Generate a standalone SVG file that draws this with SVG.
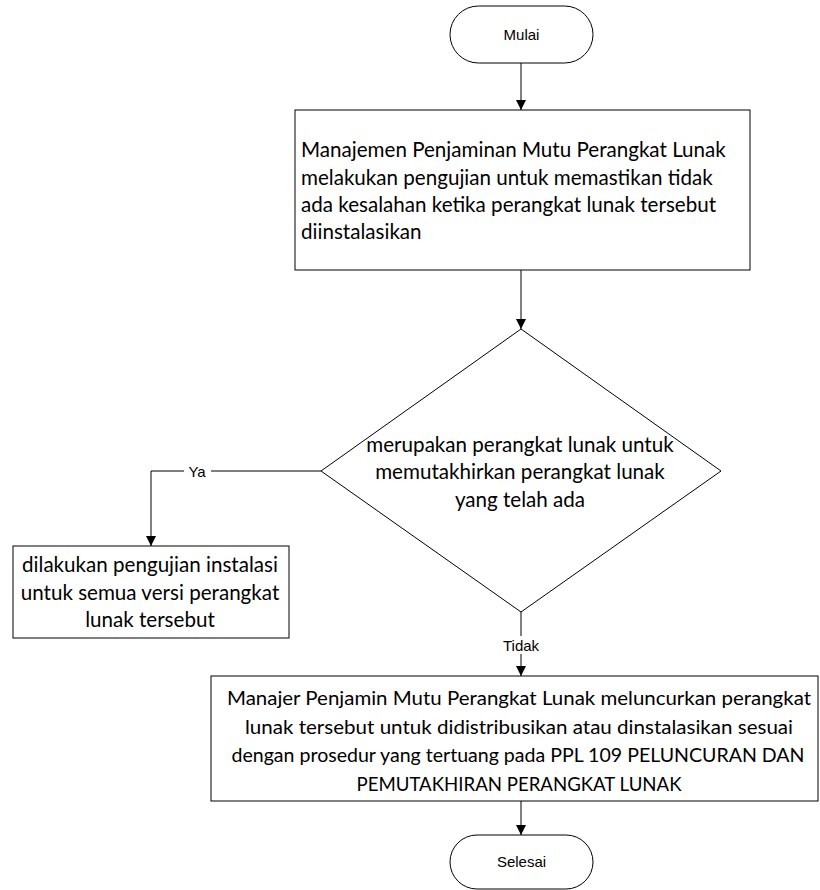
<svg xmlns="http://www.w3.org/2000/svg" width="820" height="890" viewBox="0 0 820 890">
<style>
.shape{fill:#fff;stroke:#000;stroke-width:1}
.conn{fill:none;stroke:#000;stroke-width:1}
.t{font-family:Lato,"Open Sans","Liberation Sans",sans-serif;font-size:20.6px;fill:#000}
.t2{font-family:Lato,"Open Sans","Liberation Sans",sans-serif;font-size:19.6px;fill:#000}
.s{font-family:"Liberation Sans",Arial,sans-serif;font-size:15px;fill:#000}
.lbl{fill:#fff;stroke:none}
</style>
<defs>
<marker id="arr" viewBox="0 0 10 10" refX="10" refY="5" markerWidth="10" markerHeight="10" markerUnits="userSpaceOnUse" orient="auto">
<path d="M0,0 L10,5 L0,10 Z" fill="#000"/>
</marker>
</defs>
<g id="connectors">
<line class="conn" x1="521" y1="63" x2="521" y2="110" marker-end="url(#arr)"/>
<line class="conn" x1="521" y1="270" x2="521" y2="329" marker-end="url(#arr)"/>
<polyline class="conn" points="321,471 151,471 151,546" marker-end="url(#arr)"/>
<rect class="lbl" x="184" y="462" width="27" height="18"/>
<text class="s" x="197" y="477" text-anchor="middle">Ya</text>
<line class="conn" x1="521" y1="612" x2="521" y2="676" marker-end="url(#arr)"/>
<rect class="lbl" x="498" y="636" width="46" height="18"/>
<text class="s" x="521" y="651" text-anchor="middle">Tidak</text>
<line class="conn" x1="521" y1="801" x2="521" y2="835" marker-end="url(#arr)"/>
</g>
<g id="mulai">
<rect class="shape" x="450" y="6" width="143" height="57" rx="28.5" ry="28.5"/>
<text class="s" x="521.5" y="40" text-anchor="middle">Mulai</text>
</g>
<g id="uji">
<rect class="shape" x="295" y="110" width="455" height="160"/>
<text class="t" x="301" y="157">Manajemen Penjaminan Mutu Perangkat Lunak</text>
<text class="t" x="301" y="185">melakukan pengujian untuk memastikan tidak</text>
<text class="t" x="301" y="212">ada kesalahan ketika perangkat lunak tersebut</text>
<text class="t" x="301" y="239">diinstalasikan</text>
</g>
<g id="keputusan">
<polygon class="shape" points="521,329 721,471 521,612 321,471"/>
<text class="t" x="520" y="452" text-anchor="middle">merupakan perangkat lunak untuk</text>
<text class="t" x="520" y="479" text-anchor="middle">memutakhirkan perangkat lunak</text>
<text class="t" x="520" y="507" text-anchor="middle">yang telah ada</text>
</g>
<g id="instalasi">
<rect class="shape" x="13" y="546" width="276" height="92"/>
<text class="t" x="150" y="572" text-anchor="middle">dilakukan pengujian instalasi</text>
<text class="t" x="150" y="600" text-anchor="middle">untuk semua versi perangkat</text>
<text class="t" x="150" y="627" text-anchor="middle">lunak tersebut</text>
</g>
<g id="luncur">
<rect class="shape" x="211" y="676" width="607" height="125"/>
<text class="t2" x="519" y="705" text-anchor="middle" textLength="584" lengthAdjust="spacingAndGlyphs">Manajer Penjamin Mutu Perangkat Lunak meluncurkan perangkat</text>
<text class="t2" x="519" y="734" text-anchor="middle" textLength="548" lengthAdjust="spacingAndGlyphs">lunak tersebut untuk didistribusikan atau dinstalasikan sesuai</text>
<text class="t2" x="518" y="762" text-anchor="middle" textLength="573" lengthAdjust="spacingAndGlyphs">dengan prosedur yang tertuang pada PPL 109 PELUNCURAN DAN</text>
<text class="t2" x="519" y="791" text-anchor="middle" textLength="325" lengthAdjust="spacingAndGlyphs">PEMUTAKHIRAN PERANGKAT LUNAK</text>
</g>
<g id="selesai">
<rect class="shape" x="450" y="835" width="143" height="54" rx="27" ry="27"/>
<text class="s" x="521.5" y="867" text-anchor="middle">Selesai</text>
</g>
</svg>
